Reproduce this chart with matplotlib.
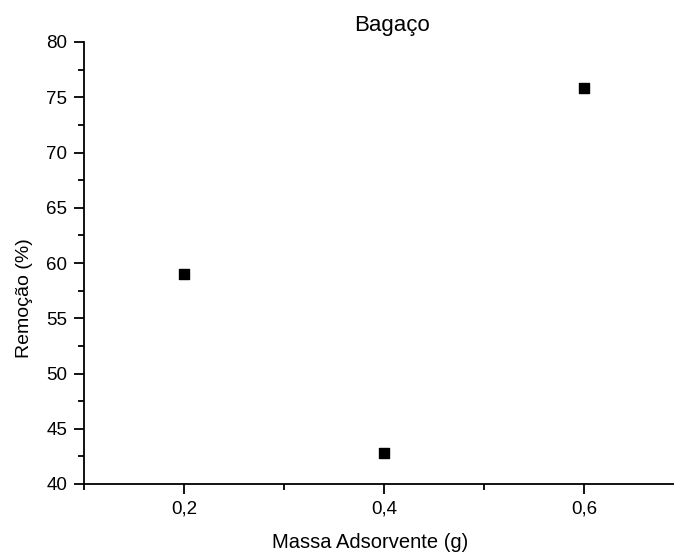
import matplotlib
matplotlib.use("Agg")
import matplotlib.pyplot as plt
from matplotlib.ticker import MultipleLocator, FuncFormatter

# data
massa = [0.2, 0.4, 0.6]
remocao = [59.0, 42.8, 75.8]

plt.rcParams['font.family'] = ['Liberation Sans', 'DejaVu Sans']

fig = plt.figure(figsize=(6.74, 5.57), dpi=100)
ax = fig.add_axes([84 / 674, 73 / 557, 590 / 674, 442 / 557])

ax.scatter(massa, remocao, marker="s", s=55, color="black", zorder=3)

ax.set_xlim(0.1, 0.69)
ax.set_ylim(40, 80)
ax.xaxis.set_major_locator(MultipleLocator(0.2))
ax.xaxis.set_minor_locator(MultipleLocator(0.1))
ax.yaxis.set_major_locator(MultipleLocator(5))
ax.yaxis.set_minor_locator(MultipleLocator(2.5))
ax.xaxis.set_major_formatter(FuncFormatter(lambda v, p: f"{v:.1f}".replace(".", ",")))

for side in ["top", "right"]:
    ax.spines[side].set_visible(False)
for side in ["left", "bottom"]:
    ax.spines[side].set_linewidth(1.3)

ax.tick_params(which="major", direction="out", length=7, width=1.3, labelsize=13.5, pad=5)
ax.tick_params(which="minor", direction="out", length=4, width=1.3)

# axis titles placed as in the original
fig.text(370 / 674, 1 - 543 / 557, "Massa Adsorvente (g)", fontsize=14.5, ha="center", va="center")
fig.text(25 / 674, 1 - 298 / 557, "Remoção (%)", fontsize=14, ha="center", va="center", rotation=90)
fig.text(392 / 674, 1 - 25 / 557, "Bagaço", fontsize=16, ha="center", va="center")

fig.savefig("out.png", dpi=100)
